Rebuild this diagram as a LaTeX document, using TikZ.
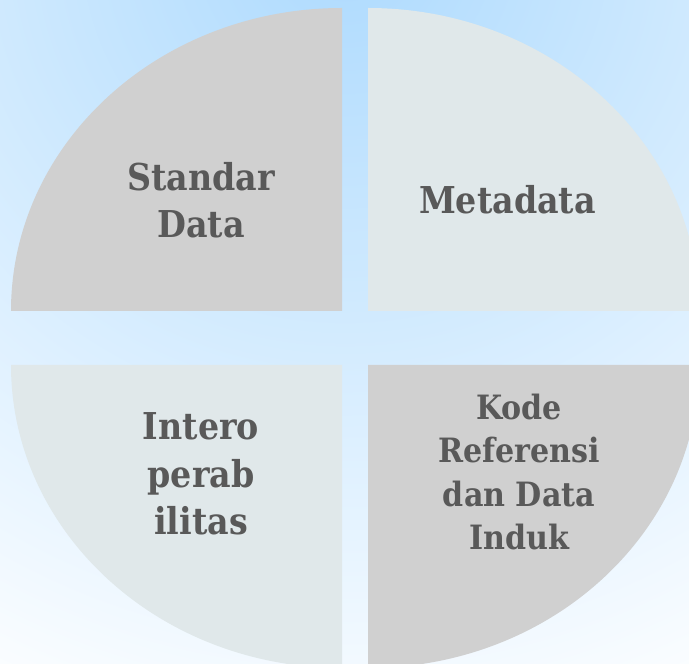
\documentclass[tikz,border=0pt]{standalone}
\usepackage{fontspec}
\newfontfamily\lblfont{DejaVu Serif Condensed}
\definecolor{skytop}{HTML}{ADDAFE}
\definecolor{quadgray}{HTML}{D0D0D0}
\definecolor{quadpale}{HTML}{E0E8EA}
\definecolor{lbltext}{HTML}{595959}
% sky-blue glow that fades to white away from the top centre
\pgfdeclareradialshading{skyglow}{\pgfpoint{0bp}{0bp}}{%
  color(0bp)=(skytop); color(25bp)=(white); color(50bp)=(white)}
\tikzset{
  quadrant/.style={draw=none},
  lbl/.style={text=lbltext, align=center, inner sep=0pt,
    font=\lblfont\bfseries\fontsize{37}{47.5}\selectfont},
  lblsmall/.style={lbl, font=\lblfont\bfseries\fontsize{33.5}{43.3}\selectfont}
}
\begin{document}
\begin{tikzpicture}[x=1pt, y=1pt]
  \useasboundingbox (0,0) rectangle (689,664);
  \clip (0,0) rectangle (689,664);
  % background
  \shade[shading=skyglow] (345,720) circle (850);
  % four elliptical quadrants, pushed apart from the centre
  \fill[quadrant, quadgray] (342,353) -- (11,353)
    arc[start angle=180, end angle=90, x radius=331, y radius=303] -- cycle;
  \fill[quadrant, quadpale] (368,353) -- (368,656)
    arc[start angle=90, end angle=0, x radius=331, y radius=303] -- cycle;
  \fill[quadrant, quadpale] (342,299) -- (11,299)
    arc[start angle=180, end angle=270, x radius=331, y radius=303] -- cycle;
  \fill[quadrant, quadgray] (368,299) -- (368,-4)
    arc[start angle=270, end angle=360, x radius=331, y radius=303] -- cycle;
  % labels
  \node[lbl] (standar) at (201,464) {Standar\\Data};
  \node[lbl] (meta) at (507.5,464.5) {Metadata};
  \node[lbl] (intero) at (201,190) {Intero\\perab\\ilitas};
  \node[lblsmall] (kode) at (519,192) {Kode\\Referensi\\dan Data\\Induk};
\end{tikzpicture}
\end{document}
